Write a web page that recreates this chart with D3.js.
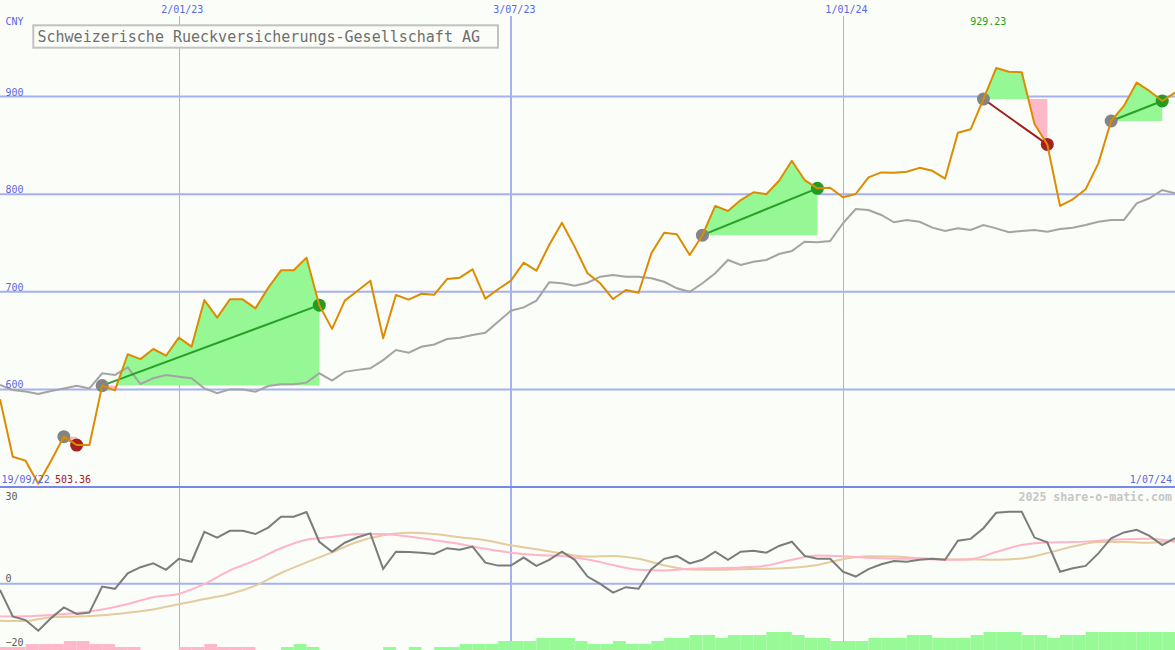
<!DOCTYPE html>
<html><head><meta charset="utf-8">
<script src="https://cdn.jsdelivr.net/npm/d3@7"></script>
<style>
html,body{margin:0;padding:0;background:#fbfdf9;}
svg{display:block;}
text{font-family:"DejaVu Sans Mono","Liberation Mono",monospace;}
</style>
</head><body>
<svg id="chart" width="1175" height="650"></svg>
<script>
// ---------- data (weekly, starting Monday 26 Sep 2022) ----------
const firstWeek = "2022-09-26";
const lastDay = "2024-07-01";
const startLabel = "19/09/22";
const endLabel = "1/07/24";
const title = "Schweizerische Rueckversicherungs-Gesellschaft AG";
const currency = "CNY";
const minLabel = "503.36";
const maxLabel = "929.23";
const credit = "2025 share-o-matic.com";

const price = [590, 531, 527, 503.36, 527, 551.6, 543, 543, 603.9, 599,
  636, 631, 641.4, 634.5, 653, 643.8, 691.6, 673.5, 692.3, 692.3,
  683, 704, 722, 722, 735, 686.3, 662, 691, 701, 711.4,
  652.4, 696.7, 692, 698, 697, 713, 714.5, 723, 693, 702.6,
  711.4, 729.8, 721.6, 748, 770.8, 746, 719, 708.7, 692.6, 701.8,
  699, 739.4, 760.6, 759, 737.7, 758, 788, 782.8, 794, 802,
  800, 813.8, 834.3, 814.5, 806, 806.6, 796.8, 800.2, 817.3, 822.3,
  822, 823, 827, 824, 816, 863, 866.5, 897.5, 929.23, 925.5,
  925, 872, 851, 788, 794.8, 805, 831.6, 875, 890.4, 914.4,
  905.8, 895.5, 904];

const relative = [604.5, 599.4, 597.8, 595.3, 598.4, 601, 603.8, 601, 616.5, 614.8,
  622.6, 605.5, 611.4, 614.8, 613, 611.4, 601, 596, 600, 600,
  597.6, 603.5, 605.2, 605.2, 606.9, 616.5, 609, 618, 620, 621.6,
  630, 640.4, 637.6, 643.7, 646, 651.6, 653, 655.7, 658, 669.4,
  680.6, 684, 690.9, 709.7, 708.7, 706.2, 709.3, 715.5, 717.2, 715.5,
  715.5, 713.8, 710.3, 703.6, 700, 708.7, 719, 732.6, 727.5, 730.8,
  732.6, 738.7, 741.8, 751.3, 750.7, 752, 770.2, 784.8, 783.8, 778.7,
  771.2, 773.6, 771.8, 765.7, 762.3, 765, 763.3, 768.4, 765, 761,
  762.3, 763.3, 761.6, 764.3, 765.7, 768.4, 771.8, 773.6, 773.6, 790.7,
  795.8, 804.3, 801];

const oscillator = [-1.95, -10.2, -11.3, -14.6, -10.7, -7.4, -9.4, -9.0, -0.9, -1.6,
  3.2, 5.1, 6.3, 4.3, 7.7, 6.8, 16.1, 14.3, 16.4, 16.4,
  15.4, 17.4, 20.8, 20.8, 22.2, 13.0, 9.9, 12.7, 14.4, 15.6,
  4.6, 9.9, 9.8, 9.6, 9.2, 11.0, 10.5, 11.5, 6.5, 5.6,
  5.6, 8.1, 5.5, 7.4, 9.9, 7.4, 2.2, -0.1, -2.8, -1.1,
  -1.6, 4.5, 7.7, 8.6, 6.3, 7.4, 9.9, 7.4, 9.9, 10.2,
  9.6, 11.7, 13.0, 8.6, 7.7, 7.7, 3.7, 2.2, 4.5, 6.0,
  7.0, 6.8, 7.4, 7.7, 7.4, 13.3, 13.9, 17.2, 22.0, 22.3,
  22.3, 14.3, 12.8, 3.7, 4.8, 5.5, 9.4, 14.1, 15.9, 16.7,
  14.8, 12.0, 14.1];

// smoothed lines, read every second week
const smoothWeeks = [0,2,4,6,8,10,12,14,16,18,20,22,24,26,28,30,32,34,36,38,40,42,44,46,
  48,50,52,54,56,58,60,62,64,66,68,70,72,74,76,78,80,82,84,86,88,90,92];
const maPink = [-10.2, -10.1, -9.7, -9.1, -8.0, -6.3, -4.2, -3.2, -0.1, 4.1, 7.3, 11.0,
  13.6, 14.5, 15.4, 15.4, 14.6, 13.5, 12.3, 10.8, 9.6, 8.9, 8.6, 7.5,
  5.8, 4.3, 4.1, 4.6, 4.8, 5.0, 5.6, 7.4, 8.7, 8.5, 8.0, 7.8, 7.7, 7.4,
  7.6, 9.8, 12.0, 12.8, 12.9, 13.3, 13.8, 13.9, 12.9];
const maTan = [-11.5, -11.6, -10.4, -10.2, -9.8, -9.0, -8.0, -6.4, -4.8, -3.2, -0.6, 3.3,
  6.6, 9.7, 13.0, 15.0, 15.8, 15.4, 14.4, 13.5, 11.9, 10.7, 9.4, 8.4,
  8.6, 7.7, 5.7, 4.4, 4.3, 4.5, 4.6, 4.9, 5.8, 7.6, 8.5, 8.4, 7.9, 7.6,
  7.5, 7.4, 7.8, 9.5, 11.5, 12.9, 12.9, 12.7, 13.6];

// weekly histogram levels (negative = pink, positive = green)
const histogram = [-1, -1, -2, -2, -2, -3, -3, -2, -2, -1,
  -1, 0, 0, 0, -1, -1, -2, -1, -1, -1,
  0, 0, 1, 2, 1, 0, 0, 0, 0, 0,
  1, 0, 1, 0, 1, 1, 2, 2, 2, 3,
  3, 3, 4, 4, 4, 3, 2, 2, 3, 2,
  2, 3, 4, 4, 5, 5, 4, 5, 5, 5,
  6, 6, 5, 4, 4, 3, 3, 3, 4, 4,
  4, 5, 5, 4, 4, 4, 5, 6, 6, 6,
  5, 5, 4, 5, 5, 6, 6, 6, 6, 6,
  6, 6];

// trades: entry week index, exit week index
const tradeEntries = [5, 8, 55, 77, 87];
const tradeExits = [6, 25, 64, 82, 91];

const dateTicks = ["2023-01-02", "2023-07-03", "2024-01-01"];
const priceTicks = [600, 700, 800, 900];
const oscTicks = [30, 0, -20];

// ---------- drawing ----------
const W = 1175, H = 650;
const parse = d3.timeParse("%Y-%m-%d");
const t0 = parse(firstWeek);
const weekDate = i => d3.timeDay.offset(t0, 7 * i);
const dates = price.map((_, i) => weekDate(i));

const x = d3.scaleTime().domain([t0, parse(lastDay)]).range([0, W]);
const y = d3.scaleLinear().domain([500, 1000]).range([487, -1]);
const yb = d3.scaleLinear().domain([-20.6, 30]).range([650, 487]);
const hb = d3.scaleLinear().domain([0, 6]).range([0, 18]);

const svg = d3.select("#chart");
const defs = svg.append("defs");
defs.append("clipPath").attr("id", "mainClip").append("rect")
  .attr("x", 0).attr("y", 0).attr("width", W).attr("height", 486);
defs.append("clipPath").attr("id", "lowClip").append("rect")
  .attr("x", 0).attr("y", 488).attr("width", W).attr("height", H - 488);

svg.append("rect").attr("width", W).attr("height", H).attr("fill", "#fbfdf9");

const gridCol = "#a6b2f0";
// vertical date grid
dateTicks.forEach((d, i) => {
  const xx = Math.round(x(parse(d)));
  svg.append("line").attr("x1", xx + (i === 1 ? 0 : 0.5)).attr("x2", xx + (i === 1 ? 0 : 0.5))
    .attr("y1", 16).attr("y2", H)
    .attr("stroke", gridCol).attr("stroke-width", i === 1 ? 2 : 1);
});
// horizontal price grid
priceTicks.forEach(v => {
  svg.append("line").attr("x1", 0).attr("x2", W).attr("y1", y(v)).attr("y2", y(v))
    .attr("stroke", gridCol).attr("stroke-width", 2);
});
// lower panel zero line & separator
svg.append("line").attr("x1", 0).attr("x2", W).attr("y1", yb(0)).attr("y2", yb(0))
  .attr("stroke", gridCol).attr("stroke-width", 2);

// ---------- lower panel ----------
const low = svg.append("g").attr("clip-path", "url(#lowClip)");
low.selectAll("rect.hist").data(histogram).join("rect")
  .attr("class", "hist")
  .attr("x", (d, i) => x(weekDate(i)))
  .attr("width", (d, i) => x(weekDate(i + 1)) - x(weekDate(i)))
  .attr("y", d => H - hb(Math.abs(d)))
  .attr("height", d => hb(Math.abs(d)))
  .attr("fill", d => d < 0 ? "#ffb8c8" : "#98fa96");

const smoothLine = vals => d3.line()
  .x((d, i) => x(weekDate(smoothWeeks[i])))
  .y(d => yb(d))
  .curve(d3.curveMonotoneX)(vals);
low.append("path").attr("d", smoothLine(maTan)).attr("fill", "none")
  .attr("stroke", "#e3cc9e").attr("stroke-width", 2);
low.append("path").attr("d", smoothLine(maPink)).attr("fill", "none")
  .attr("stroke", "#ffb4c8").attr("stroke-width", 2);
low.append("path").datum(oscillator)
  .attr("d", d3.line().x((d, i) => x(dates[i])).y(d => yb(d)))
  .attr("fill", "none").attr("stroke", "#7c7c7c").attr("stroke-width", 2);

// separator between panels
svg.append("line").attr("x1", 0).attr("x2", W).attr("y1", 487).attr("y2", 487)
  .attr("stroke", "#7888ea").attr("stroke-width", 2);

// ---------- main panel ----------
const main = svg.append("g").attr("clip-path", "url(#mainClip)");

tradeEntries.forEach((e, ti) => {
  const xEnd = tradeExits[ti];
  const lvl = y(price[e]);
  const idx = d3.range(e, xEnd + 1);
  const area = d3.area().x(i => x(dates[i])).y0(lvl).y1(i => y(price[i]));
  const cu = "tu" + ti, cd = "td" + ti;
  defs.append("clipPath").attr("id", cu).append("rect")
    .attr("x", 0).attr("y", 0).attr("width", W).attr("height", lvl);
  defs.append("clipPath").attr("id", cd).append("rect")
    .attr("x", 0).attr("y", lvl).attr("width", W).attr("height", H - lvl);
  main.append("g").attr("clip-path", `url(#${cu})`).append("path")
    .attr("d", area(idx)).attr("fill", "#96f894");
  main.append("g").attr("clip-path", `url(#${cd})`).append("path")
    .attr("d", area(idx)).attr("fill", "#ffb8c8");
});

main.append("path").datum(relative)
  .attr("d", d3.line().x((d, i) => x(dates[i])).y(d => y(d)))
  .attr("fill", "none").attr("stroke", "#a4a4a4").attr("stroke-width", 2);

tradeEntries.forEach((e, ti) => {
  const xEnd = tradeExits[ti];
  const win = price[xEnd] > price[e];
  main.append("line")
    .attr("x1", x(dates[e])).attr("y1", y(price[e]))
    .attr("x2", x(dates[xEnd])).attr("y2", y(price[xEnd]))
    .attr("stroke", win ? "#27a027" : "#a41c1c").attr("stroke-width", 2);
  main.append("circle").attr("cx", x(dates[e])).attr("cy", y(price[e])).attr("r", 6.5)
    .attr("fill", "#848484");
  main.append("circle").attr("cx", x(dates[xEnd])).attr("cy", y(price[xEnd])).attr("r", 6.5)
    .attr("fill", win ? "#239a23" : "#a62020");
});

main.append("path").datum(price)
  .attr("d", d3.line().x((d, i) => x(dates[i])).y(d => y(d)))
  .attr("fill", "none").attr("stroke", "#dc8c00").attr("stroke-width", 2)
  .attr("stroke-linejoin", "round");

// ---------- axes & labels ----------
const blue = "#5868e6";
const ax = svg.append("g").attr("transform", "translate(3,13)")
  .call(d3.axisTop(x).tickValues(dateTicks.map(parse)).tickFormat(d3.timeFormat("%-d/%m/%y"))
    .tickSize(0).tickPadding(0));
ax.select(".domain").remove();
ax.selectAll("text").attr("fill", blue).attr("font-size", 10)
  .attr("font-family", "DejaVu Sans Mono").attr("dy", 0);

const ay = svg.append("g").attr("transform", "translate(5.5,-1.5)")
  .call(d3.axisRight(y).tickValues(priceTicks).tickSize(0).tickPadding(0));
ay.select(".domain").remove();
ay.selectAll("text").attr("fill", blue).attr("font-size", 10)
  .attr("font-family", "DejaVu Sans Mono").attr("dy", 0);

const ab = svg.append("g").attr("transform", "translate(5.5,0)")
  .call(d3.axisRight(yb).tickValues(oscTicks).tickSize(0).tickPadding(0));
ab.select(".domain").remove();
ab.selectAll(".tick").attr("transform", d => `translate(0,${Math.max(yb(d) - 2, 499.5)})`);
ab.selectAll("text").attr("fill", "#5a5a5a").attr("font-size", 10)
  .attr("font-family", "DejaVu Sans Mono").attr("dy", 0);

svg.append("text").attr("x", 5.5).attr("y", 25).attr("font-size", 10).attr("fill", blue).text(currency);
svg.append("text").attr("x", 1.5).attr("y", 483).attr("font-size", 10).attr("fill", blue).text(startLabel);
svg.append("text").attr("x", 55).attr("y", 483).attr("font-size", 10).attr("fill", "#a42020").text(minLabel);
svg.append("text").attr("x", 1172).attr("y", 483).attr("font-size", 10).attr("fill", blue)
  .attr("text-anchor", "end").text(endLabel);
const iMax = price.indexOf(d3.max(price));
svg.append("text").attr("x", x(dates[iMax]) - 8).attr("y", 25).attr("font-size", 10)
  .attr("fill", "#22a022").attr("text-anchor", "middle").text(maxLabel);
svg.append("text").attr("x", 1172).attr("y", 501).attr("font-size", 11.6).attr("font-weight", "bold")
  .attr("fill", "#c6c6c6").attr("text-anchor", "end").text(credit);

svg.append("rect").attr("x", 33.3).attr("y", 25.3).attr("width", 464.7).attr("height", 22.4)
  .attr("fill", "#fbfdf9").attr("stroke", "#c2c2c2").attr("stroke-width", 2);
svg.append("text").attr("x", 37.5).attr("y", 41.5).attr("font-size", 15).attr("fill", "#6e6e6e")
  .text(title);
</script>
</body></html>
